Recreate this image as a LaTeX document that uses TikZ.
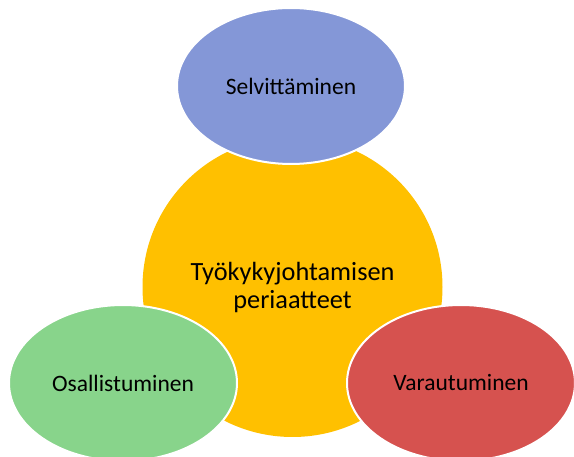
\documentclass[tikz,border=0pt]{standalone}
\usepackage{fontspec}
\setmainfont{Carlito}
\usetikzlibrary{shapes.geometric}
\definecolor{hubyellow}{HTML}{FFC000}
\definecolor{topblue}{HTML}{8497D7}
\definecolor{leftgreen}{HTML}{88D48B}
\definecolor{rightred}{HTML}{D6524F}
\tikzset{
  hub/.style={circle, fill=hubyellow, minimum size=300pt, inner sep=0pt,
    align=center, font=\fontsize{26.3}{28}\selectfont},
  petal/.style={ellipse, draw=white, line width=2pt, minimum width=228pt,
    minimum height=156pt, inner sep=0pt,
    font=\fontsize{23.5}{28.5}\selectfont}
}
\begin{document}
\begin{tikzpicture}[x=1pt,y=-1pt]
  \useasboundingbox (0,0) rectangle (574,457);
  \node[hub] (hub) at (292.5,287) {Työkykyjohtamisen\\periaatteet};
  \node[petal, fill=topblue] (top) at (291,86) {Selvittäminen};
  \node[petal, fill=leftgreen] (left) at (123,383) {Osallistuminen};
  \node[petal, fill=rightred] (right) at (461,383) {Varautuminen};
\end{tikzpicture}
\end{document}
